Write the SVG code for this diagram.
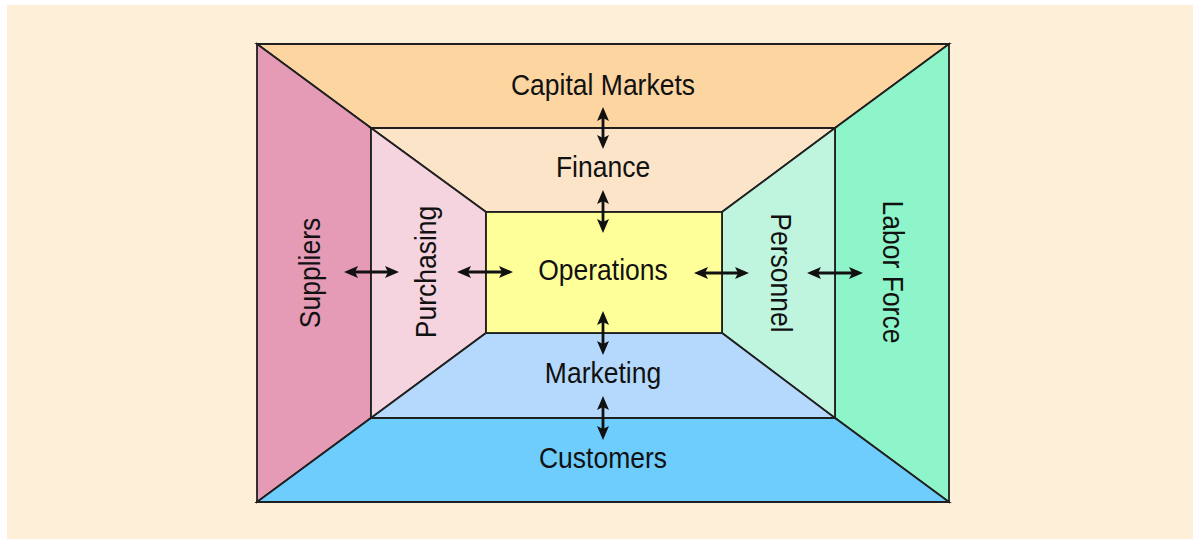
<svg xmlns="http://www.w3.org/2000/svg" width="1198" height="539" viewBox="0 0 1198 539">
  <style>
    .face { stroke: #1f1f1f; stroke-width: 1.8; stroke-linejoin: miter; }
    .lbl { font-family: "Liberation Sans", Arial, sans-serif; font-size: 26.5px; fill: #111; text-anchor: middle; }
    .link { stroke: #111; stroke-width: 2.8; fill: none; marker-start: url(#head); marker-end: url(#head); }
  </style>
  <defs>
    <marker id="head" viewBox="0 0 14 12" refX="10" refY="6" markerWidth="14" markerHeight="12" markerUnits="userSpaceOnUse" orient="auto-start-reverse">
      <path d="M0,0 L14,6 L0,12 L3,6 Z" fill="#111"/>
    </marker>
  </defs>

  <!-- page panel -->
  <rect x="0" y="0" width="1198" height="539" fill="#ffffff"/>
  <rect x="7" y="5" width="1186" height="534" fill="#fef0d8"/>

  <!-- outer ring -->
  <g id="capital-markets">
    <polygon class="face" points="257,44 949,44 835,128 371,128" fill="#fdd5a1"/>
    <text class="lbl" transform="translate(603,95) scale(1,1.12)">Capital Markets</text>
  </g>
  <g id="suppliers">
    <polygon class="face" points="257,44 371,128 371,418 257,502" fill="#e59ab5"/>
    <text class="lbl" transform="translate(320,273) rotate(-90) scale(1,1.12)">Suppliers</text>
  </g>
  <g id="labor-force">
    <polygon class="face" points="949,44 949,502 835,418 835,128" fill="#8ef4c9"/>
    <text class="lbl" transform="translate(883,272) rotate(90) scale(1,1.12)">Labor Force</text>
  </g>
  <g id="customers">
    <polygon class="face" points="257,502 371,418 835,418 949,502" fill="#6ecdfd"/>
    <text class="lbl" transform="translate(603,468) scale(1,1.12)">Customers</text>
  </g>

  <!-- inner ring -->
  <g id="finance">
    <polygon class="face" points="371,128 835,128 722,212 486,212" fill="#fce4c8"/>
    <text class="lbl" transform="translate(603,177) scale(1,1.12)">Finance</text>
  </g>
  <g id="purchasing">
    <polygon class="face" points="371,128 486,212 486,333 371,418" fill="#f5d3df"/>
    <text class="lbl" transform="translate(436,272) rotate(-90) scale(1,1.12)">Purchasing</text>
  </g>
  <g id="personnel">
    <polygon class="face" points="835,128 835,418 722,333 722,212" fill="#bff5df"/>
    <text class="lbl" transform="translate(771,273) rotate(90) scale(1,1.12)">Personnel</text>
  </g>
  <g id="marketing">
    <polygon class="face" points="371,418 486,333 722,333 835,418" fill="#b5d9fc"/>
    <text class="lbl" transform="translate(603,383) scale(1,1.12)">Marketing</text>
  </g>

  <!-- core -->
  <g id="operations">
    <rect class="face" x="486" y="212" width="236" height="121" fill="#ffff9a"/>
    <text class="lbl" transform="translate(603,280) scale(1,1.12)">Operations</text>
  </g>

  <!-- two-way links -->
  <g id="connectors">
    <line class="link" x1="603" y1="111" x2="603" y2="145"/>
    <line class="link" x1="603" y1="194" x2="603" y2="229"/>
    <line class="link" x1="603" y1="315" x2="603" y2="351"/>
    <line class="link" x1="603" y1="400" x2="603" y2="436"/>
    <line class="link" x1="348" y1="272" x2="395" y2="272"/>
    <line class="link" x1="461" y1="272" x2="509" y2="272"/>
    <line class="link" x1="698" y1="273" x2="745" y2="273"/>
    <line class="link" x1="811" y1="273" x2="859" y2="273"/>
  </g>
</svg>
